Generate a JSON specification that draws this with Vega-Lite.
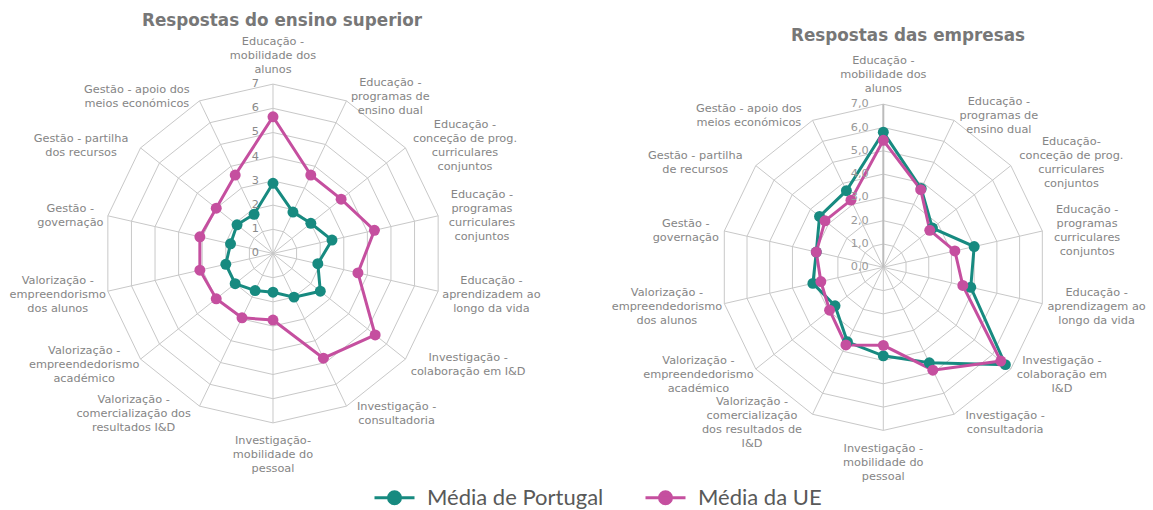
{
  "$schema": "https://vega.github.io/schema/vega-lite/v6.json",
  "padding": 0,
  "spacing": 0,
  "bounds": "flush",
  "background": "white",
  "datasets": {
    "respostas": [
      {"painel": "ensino", "k": 0, "serie": "Média de Portugal", "valor": 2.9},
      {"painel": "ensino", "k": 1, "serie": "Média de Portugal", "valor": 1.9},
      {"painel": "ensino", "k": 2, "serie": "Média de Portugal", "valor": 2.0},
      {"painel": "ensino", "k": 3, "serie": "Média de Portugal", "valor": 2.5},
      {"painel": "ensino", "k": 4, "serie": "Média de Portugal", "valor": 1.9},
      {"painel": "ensino", "k": 5, "serie": "Média de Portugal", "valor": 2.5},
      {"painel": "ensino", "k": 6, "serie": "Média de Portugal", "valor": 2.0},
      {"painel": "ensino", "k": 7, "serie": "Média de Portugal", "valor": 1.6},
      {"painel": "ensino", "k": 8, "serie": "Média de Portugal", "valor": 1.7},
      {"painel": "ensino", "k": 9, "serie": "Média de Portugal", "valor": 2.0},
      {"painel": "ensino", "k": 10, "serie": "Média de Portugal", "valor": 2.0},
      {"painel": "ensino", "k": 11, "serie": "Média de Portugal", "valor": 1.8},
      {"painel": "ensino", "k": 12, "serie": "Média de Portugal", "valor": 1.9},
      {"painel": "ensino", "k": 13, "serie": "Média de Portugal", "valor": 1.8},
      {"painel": "ensino", "k": 0, "serie": "Média da UE", "valor": 5.65},
      {"painel": "ensino", "k": 1, "serie": "Média da UE", "valor": 3.6},
      {"painel": "ensino", "k": 2, "serie": "Média da UE", "valor": 3.6},
      {"painel": "ensino", "k": 3, "serie": "Média da UE", "valor": 4.3},
      {"painel": "ensino", "k": 4, "serie": "Média da UE", "valor": 3.6},
      {"painel": "ensino", "k": 5, "serie": "Média da UE", "valor": 5.4},
      {"painel": "ensino", "k": 6, "serie": "Média da UE", "valor": 4.8},
      {"painel": "ensino", "k": 7, "serie": "Média da UE", "valor": 2.75},
      {"painel": "ensino", "k": 8, "serie": "Média da UE", "valor": 2.95},
      {"painel": "ensino", "k": 9, "serie": "Média da UE", "valor": 3.0},
      {"painel": "ensino", "k": 10, "serie": "Média da UE", "valor": 3.1},
      {"painel": "ensino", "k": 11, "serie": "Média da UE", "valor": 3.1},
      {"painel": "ensino", "k": 12, "serie": "Média da UE", "valor": 3.0},
      {"painel": "ensino", "k": 13, "serie": "Média da UE", "valor": 3.6},
      {"painel": "empresas", "k": 0, "serie": "Média de Portugal", "valor": 5.8},
      {"painel": "empresas", "k": 1, "serie": "Média de Portugal", "valor": 3.75},
      {"painel": "empresas", "k": 2, "serie": "Média de Portugal", "valor": 2.7},
      {"painel": "empresas", "k": 3, "serie": "Média de Portugal", "valor": 4.0},
      {"painel": "empresas", "k": 4, "serie": "Média de Portugal", "valor": 3.85},
      {"painel": "empresas", "k": 5, "serie": "Média de Portugal", "valor": 6.7},
      {"painel": "empresas", "k": 6, "serie": "Média de Portugal", "valor": 4.55},
      {"painel": "empresas", "k": 7, "serie": "Média de Portugal", "valor": 3.8},
      {"painel": "empresas", "k": 8, "serie": "Média de Portugal", "valor": 3.55},
      {"painel": "empresas", "k": 9, "serie": "Média de Portugal", "valor": 2.65},
      {"painel": "empresas", "k": 10, "serie": "Média de Portugal", "valor": 3.1},
      {"painel": "empresas", "k": 11, "serie": "Média de Portugal", "valor": 2.95},
      {"painel": "empresas", "k": 12, "serie": "Média de Portugal", "valor": 3.5},
      {"painel": "empresas", "k": 13, "serie": "Média de Portugal", "valor": 3.65},
      {"painel": "empresas", "k": 0, "serie": "Média da UE", "valor": 5.45},
      {"painel": "empresas", "k": 1, "serie": "Média da UE", "valor": 3.7},
      {"painel": "empresas", "k": 2, "serie": "Média da UE", "valor": 2.55},
      {"painel": "empresas", "k": 3, "serie": "Média da UE", "valor": 3.15},
      {"painel": "empresas", "k": 4, "serie": "Média da UE", "valor": 3.5},
      {"painel": "empresas", "k": 5, "serie": "Média da UE", "valor": 6.45},
      {"painel": "empresas", "k": 6, "serie": "Média da UE", "valor": 4.9},
      {"painel": "empresas", "k": 7, "serie": "Média da UE", "valor": 3.35},
      {"painel": "empresas", "k": 8, "serie": "Média da UE", "valor": 3.7},
      {"painel": "empresas", "k": 9, "serie": "Média da UE", "valor": 2.95},
      {"painel": "empresas", "k": 10, "serie": "Média da UE", "valor": 2.75},
      {"painel": "empresas", "k": 11, "serie": "Média da UE", "valor": 2.95},
      {"painel": "empresas", "k": 12, "serie": "Média da UE", "valor": 3.2},
      {"painel": "empresas", "k": 13, "serie": "Média da UE", "valor": 3.2}
    ],
    "eixos": [
      {"painel": "ensino", "k": 0, "txt": ["Educação -", "mobilidade dos", "alunos"]},
      {"painel": "ensino", "k": 1, "txt": ["Educação -", "programas de", "ensino dual"]},
      {"painel": "ensino", "k": 2, "txt": ["Educação -", "conceção de prog.", "curriculares", "conjuntos"]},
      {"painel": "ensino", "k": 3, "txt": ["Educação -", "programas", "curriculares", "conjuntos"]},
      {"painel": "ensino", "k": 4, "txt": ["Educação -", "aprendizadem ao", "longo da vida"]},
      {"painel": "ensino", "k": 5, "txt": ["Investigação -", "colaboração em I&D"]},
      {"painel": "ensino", "k": 6, "txt": ["Investigação -", "consultadoria"]},
      {"painel": "ensino", "k": 7, "txt": ["Investigação-", "mobilidade do", "pessoal"]},
      {"painel": "ensino", "k": 8, "txt": ["Valorização -", "comercialização dos", "resultados I&D"]},
      {"painel": "ensino", "k": 9, "txt": ["Valorização -", "empreendedorismo", "académico"]},
      {"painel": "ensino", "k": 10, "txt": ["Valorização -", "empreendorismo", "dos alunos"]},
      {"painel": "ensino", "k": 11, "txt": ["Gestão -", "governação"]},
      {"painel": "ensino", "k": 12, "txt": ["Gestão - partilha", "dos recursos"]},
      {"painel": "ensino", "k": 13, "txt": ["Gestão - apoio dos", "meios económicos"]},
      {"painel": "empresas", "k": 0, "txt": ["Educação -", "mobilidade dos", "alunos"]},
      {"painel": "empresas", "k": 1, "txt": ["Educação -", "programas de", "ensino dual"]},
      {"painel": "empresas", "k": 2, "txt": ["Educação-", "conceção de prog.", "curriculares", "conjuntos"]},
      {"painel": "empresas", "k": 3, "txt": ["Educação -", "programas", "curriculares", "conjuntos"]},
      {"painel": "empresas", "k": 4, "txt": ["Educação -", "aprendizagem ao", "longo da vida"]},
      {"painel": "empresas", "k": 5, "txt": ["Investigação -", "colaboração em", "I&D"]},
      {"painel": "empresas", "k": 6, "txt": ["Investigação -", "consultadoria"]},
      {"painel": "empresas", "k": 7, "txt": ["Investigação -", "mobilidade do", "pessoal"]},
      {"painel": "empresas", "k": 8, "txt": ["Valorização -", "comercialização", "dos resultados de", "I&D"]},
      {"painel": "empresas", "k": 9, "txt": ["Valorização -", "empreendedorismo", "académico"]},
      {"painel": "empresas", "k": 10, "txt": ["Valorização -", "empreendedorismo", "dos alunos"]},
      {"painel": "empresas", "k": 11, "txt": ["Gestão -", "governação"]},
      {"painel": "empresas", "k": 12, "txt": ["Gestão - partilha", "de recursos"]},
      {"painel": "empresas", "k": 13, "txt": ["Gestão - apoio dos", "meios económicos"]}
    ],
    "grelha": [
      {"k": 0, "r": [1, 2, 3, 4, 5, 6, 7]},
      {"k": 1, "r": [1, 2, 3, 4, 5, 6, 7]},
      {"k": 2, "r": [1, 2, 3, 4, 5, 6, 7]},
      {"k": 3, "r": [1, 2, 3, 4, 5, 6, 7]},
      {"k": 4, "r": [1, 2, 3, 4, 5, 6, 7]},
      {"k": 5, "r": [1, 2, 3, 4, 5, 6, 7]},
      {"k": 6, "r": [1, 2, 3, 4, 5, 6, 7]},
      {"k": 7, "r": [1, 2, 3, 4, 5, 6, 7]},
      {"k": 8, "r": [1, 2, 3, 4, 5, 6, 7]},
      {"k": 9, "r": [1, 2, 3, 4, 5, 6, 7]},
      {"k": 10, "r": [1, 2, 3, 4, 5, 6, 7]},
      {"k": 11, "r": [1, 2, 3, 4, 5, 6, 7]},
      {"k": 12, "r": [1, 2, 3, 4, 5, 6, 7]},
      {"k": 13, "r": [1, 2, 3, 4, 5, 6, 7]}
    ],
    "marcas": [
      {"painel": "ensino", "v": 0, "lab": "0"},
      {"painel": "ensino", "v": 1, "lab": "1"},
      {"painel": "ensino", "v": 2, "lab": "2"},
      {"painel": "ensino", "v": 3, "lab": "3"},
      {"painel": "ensino", "v": 4, "lab": "4"},
      {"painel": "ensino", "v": 5, "lab": "5"},
      {"painel": "ensino", "v": 6, "lab": "6"},
      {"painel": "ensino", "v": 7, "lab": "7"},
      {"painel": "empresas", "v": 0, "lab": "0,0"},
      {"painel": "empresas", "v": 1, "lab": "1,0"},
      {"painel": "empresas", "v": 2, "lab": "2,0"},
      {"painel": "empresas", "v": 3, "lab": "3,0"},
      {"painel": "empresas", "v": 4, "lab": "4,0"},
      {"painel": "empresas", "v": 5, "lab": "5,0"},
      {"painel": "empresas", "v": 6, "lab": "6,0"},
      {"painel": "empresas", "v": 7, "lab": "7,0"}
    ]
  },
  "hconcat": [
    {
      "width": 610,
      "height": 510,
      "title": {"text": "Respostas do ensino superior", "frame": "group", "anchor": "middle", "orient": "top", "offset": -43, "baseline": "alphabetic", "dx": -23, "fontSize": 16.8, "fontWeight": "bold", "color": "#777777", "font": "DejaVu Sans"},
      "encoding": {
        "x": {"field": "px", "type": "quantitative", "scale": {"domain": [-11.281, 13.926], "nice": false, "zero": false}, "axis": null},
        "y": {"field": "py", "type": "quantitative", "scale": {"domain": [-10.599, 10.475], "nice": false, "zero": false}, "axis": null}
      },
      "layer": [
        {
          "data": {"name": "grelha"},
          "transform": [
            {"flatten": ["r"]},
            {"calculate": "datum.r*sin(datum.k*PI/7)", "as": "px"},
            {"calculate": "datum.r*cos(datum.k*PI/7)", "as": "py"}
          ],
          "mark": {"type": "line", "interpolate": "linear-closed", "stroke": "#c8c8c8", "strokeWidth": 1},
          "encoding": {"detail": {"field": "r", "type": "nominal"}, "order": {"field": "k", "type": "quantitative"}}
        },
        {
          "data": {"name": "grelha"},
          "transform": [
            {"calculate": "0", "as": "px"},
            {"calculate": "0", "as": "py"},
            {"calculate": "7*sin(datum.k*PI/7)", "as": "ex"},
            {"calculate": "7*cos(datum.k*PI/7)", "as": "ey"}
          ],
          "mark": {"type": "rule", "stroke": "#c8c8c8", "strokeWidth": 1},
          "encoding": {"x2": {"field": "ex"}, "y2": {"field": "ey"}}
        },
        {
          "data": {"name": "respostas"},
          "transform": [
            {"filter": "datum.painel === 'ensino'"},
            {"calculate": "datum.valor*sin(datum.k*PI/7)", "as": "px"},
            {"calculate": "datum.valor*cos(datum.k*PI/7)", "as": "py"}
          ],
          "mark": {"type": "line", "interpolate": "linear-closed", "strokeWidth": 3},
          "encoding": {
            "color": {"field": "serie", "type": "nominal", "scale": {"domain": ["Média de Portugal", "Média da UE"], "range": ["#178a80", "#c54f9f"]}},
            "order": {"field": "k", "type": "quantitative"}
          }
        },
        {
          "data": {"name": "respostas"},
          "transform": [
            {"filter": "datum.painel === 'ensino'"},
            {"calculate": "datum.valor*sin(datum.k*PI/7)", "as": "px"},
            {"calculate": "datum.valor*cos(datum.k*PI/7)", "as": "py"}
          ],
          "mark": {"type": "point", "filled": true, "size": 120, "opacity": 1},
          "encoding": {
            "color": {"field": "serie", "type": "nominal", "scale": {"domain": ["Média de Portugal", "Média da UE"], "range": ["#178a80", "#c54f9f"]}}
          }
        },
        {
          "data": {"name": "marcas"},
          "transform": [
            {"filter": "datum.painel === 'ensino'"},
            {"calculate": "0", "as": "px"},
            {"calculate": "datum.v", "as": "py"}
          ],
          "mark": {"type": "text", "align": "right", "baseline": "middle", "dx": -14, "fontSize": 11.3, "fill": "#8a8a8a", "font": "DejaVu Sans"},
          "encoding": {"text": {"field": "lab", "type": "nominal"}}
        },
        {
          "data": {"name": "eixos"},
          "transform": [
            {"filter": "datum.painel === 'ensino'"},
            {"calculate": "datum.k*PI/7", "as": "a"},
            {"calculate": "max(length(datum.txt[0]||''), length(datum.txt[1]||''), length(datum.txt[2]||''), length(datum.txt[3]||''))", "as": "m"},
            {"calculate": "abs(sin(datum.a)) < 0.01 ? 0 : 7*sin(datum.a) + (sin(datum.a) > 0 ? 1 : -1)*(6 + datum.m*3.15)/24.2", "as": "px"},
            {"calculate": "(abs(sin(datum.a)) < 0.01 ? 7*cos(datum.a) + (cos(datum.a) > 0 ? 1 : -1)*(9 + length(datum.txt)*7)/24.2 : 7*cos(datum.a) + 7*cos(datum.a)/24.2) + ((length(datum.txt)-1)*7 - 2)/24.2", "as": "py"}
          ],
          "mark": {"type": "text", "align": "center", "baseline": "middle", "lineHeight": 14, "fontSize": 11.3, "fill": "#858585", "font": "DejaVu Sans"},
          "encoding": {"text": {"field": "txt", "type": "nominal"}}
        }
      ]
    },
    {
      "width": 543,
      "height": 510,
      "title": {"text": "Respostas das empresas", "frame": "group", "anchor": "middle", "orient": "top", "offset": -57.5, "baseline": "alphabetic", "dx": 26.5, "fontSize": 16.8, "fontWeight": "bold", "color": "#777777", "font": "DejaVu Sans"},
      "encoding": {
        "x": {"field": "px", "type": "quantitative", "scale": {"domain": [-11.730, 11.575], "nice": false, "zero": false}, "axis": null},
        "y": {"field": "py", "type": "quantitative", "scale": {"domain": [-10.416, 11.472], "nice": false, "zero": false}, "axis": null}
      },
      "layer": [
        {
          "data": {"name": "grelha"},
          "transform": [
            {"flatten": ["r"]},
            {"calculate": "datum.r*sin(datum.k*PI/7)", "as": "px"},
            {"calculate": "datum.r*cos(datum.k*PI/7)", "as": "py"}
          ],
          "mark": {"type": "line", "interpolate": "linear-closed", "stroke": "#c8c8c8", "strokeWidth": 1},
          "encoding": {"detail": {"field": "r", "type": "nominal"}, "order": {"field": "k", "type": "quantitative"}}
        },
        {
          "data": {"name": "grelha"},
          "transform": [
            {"filter": "datum.k > 0"},
            {"calculate": "0", "as": "px"},
            {"calculate": "0", "as": "py"},
            {"calculate": "7*sin(datum.k*PI/7)", "as": "ex"},
            {"calculate": "7*cos(datum.k*PI/7)", "as": "ey"}
          ],
          "mark": {"type": "rule", "stroke": "#c8c8c8", "strokeWidth": 1},
          "encoding": {"x2": {"field": "ex"}, "y2": {"field": "ey"}}
        },
        {
          "data": {"name": "grelha"},
          "transform": [
            {"filter": "datum.k === 0"},
            {"calculate": "0", "as": "px"},
            {"calculate": "0", "as": "py"},
            {"calculate": "0", "as": "ex"},
            {"calculate": "7", "as": "ey"}
          ],
          "mark": {"type": "rule", "stroke": "#bcbcbc", "strokeWidth": 2},
          "encoding": {"x2": {"field": "ex"}, "y2": {"field": "ey"}}
        },
        {
          "data": {"name": "respostas"},
          "transform": [
            {"filter": "datum.painel === 'empresas'"},
            {"calculate": "datum.valor*sin(datum.k*PI/7)", "as": "px"},
            {"calculate": "datum.valor*cos(datum.k*PI/7)", "as": "py"}
          ],
          "mark": {"type": "line", "interpolate": "linear-closed", "strokeWidth": 3},
          "encoding": {
            "color": {"field": "serie", "type": "nominal", "scale": {"domain": ["Média de Portugal", "Média da UE"], "range": ["#178a80", "#c54f9f"]}},
            "order": {"field": "k", "type": "quantitative"}
          }
        },
        {
          "data": {"name": "respostas"},
          "transform": [
            {"filter": "datum.painel === 'empresas'"},
            {"calculate": "datum.valor*sin(datum.k*PI/7)", "as": "px"},
            {"calculate": "datum.valor*cos(datum.k*PI/7)", "as": "py"}
          ],
          "mark": {"type": "point", "filled": true, "size": 120, "opacity": 1},
          "encoding": {
            "color": {"field": "serie", "type": "nominal", "scale": {"domain": ["Média de Portugal", "Média da UE"], "range": ["#178a80", "#c54f9f"]}}
          }
        },
        {
          "data": {"name": "marcas"},
          "transform": [
            {"filter": "datum.painel === 'empresas'"},
            {"calculate": "0", "as": "px"},
            {"calculate": "datum.v", "as": "py"}
          ],
          "mark": {"type": "text", "align": "right", "baseline": "middle", "dx": -14.5, "fontSize": 11.3, "fill": "#999999", "font": "DejaVu Sans"},
          "encoding": {"text": {"field": "lab", "type": "nominal"}}
        },
        {
          "data": {"name": "eixos"},
          "transform": [
            {"filter": "datum.painel === 'empresas'"},
            {"calculate": "datum.k*PI/7", "as": "a"},
            {"calculate": "max(length(datum.txt[0]||''), length(datum.txt[1]||''), length(datum.txt[2]||''), length(datum.txt[3]||''))", "as": "m"},
            {"calculate": "abs(sin(datum.a)) < 0.01 ? 0 : 7*sin(datum.a) + (sin(datum.a) > 0 ? 1 : -1)*(7 + datum.m*3.15)/23.3", "as": "px"},
            {"calculate": "(abs(sin(datum.a)) < 0.01 ? 7*cos(datum.a) + (cos(datum.a) > 0 ? 1 : -1)*(10 + length(datum.txt)*7)/23.3 : 7*cos(datum.a) + 7*cos(datum.a)/23.3) + ((length(datum.txt)-1)*7 - 2)/23.3", "as": "py"}
          ],
          "mark": {"type": "text", "align": "center", "baseline": "middle", "lineHeight": 14, "fontSize": 11.3, "fill": "#858585", "font": "DejaVu Sans"},
          "encoding": {"text": {"field": "txt", "type": "nominal"}}
        }
      ]
    }
  ],
  "resolve": {"scale": {"color": "shared"}, "legend": {"color": "shared"}},
  "config": {
    "view": {"stroke": null},
    "font": "DejaVu Sans",
    "legend": {
      "orient": "none",
      "legendX": 373,
      "legendY": 476,
      "direction": "horizontal",
      "title": null,
      "symbolType": "M-1,0L1,0M-0.3,0A0.3,0.3,0,1,1,0.3,0A0.3,0.3,0,1,1,-0.3,0Z",
      "symbolSize": 1600,
      "symbolStrokeWidth": 3,
      "labelFont": "Lato",
      "labelFontSize": 22,
      "labelColor": "#595959",
      "labelOffset": 11,
      "labelLimit": 400,
      "columnPadding": 35
    }
  }
}
